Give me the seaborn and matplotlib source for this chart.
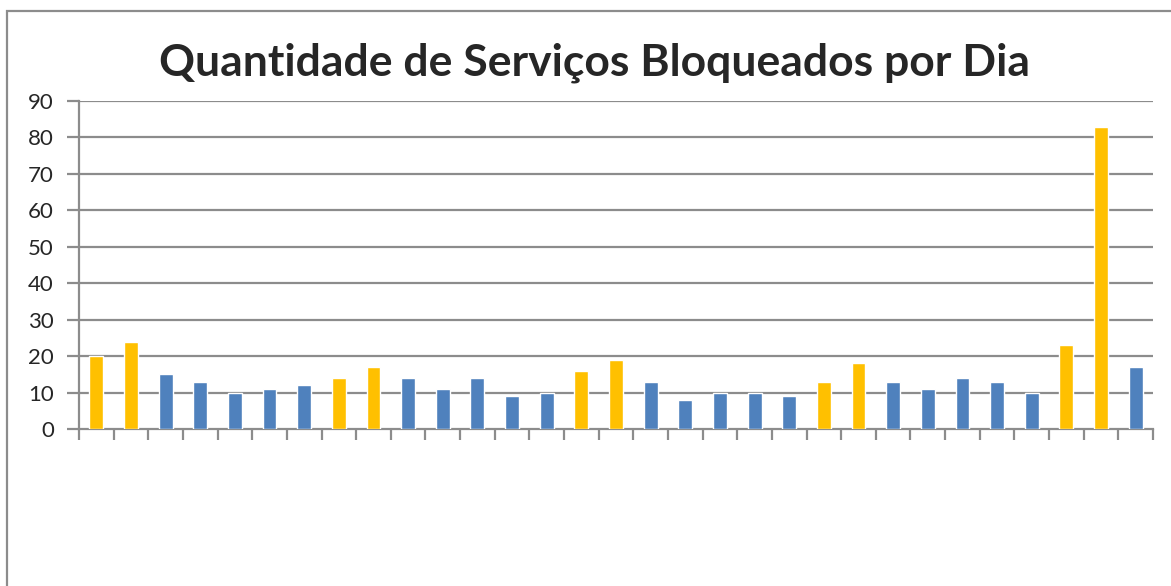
import matplotlib
matplotlib.use("Agg")
import matplotlib.pyplot as plt
import seaborn as sns
import pandas as pd
import numpy as np
from matplotlib.patches import Rectangle

# --- Data ---
dias = list(range(1, 32))
bloqueados = [20, 24, 15, 13, 10, 11, 12, 14, 17, 14, 11, 14, 9, 10, 16, 19,
              13, 8, 10, 10, 9, 13, 18, 13, 11, 14, 13, 10, 23, 83, 17]
fim_de_semana = [1, 2, 8, 9, 15, 16, 22, 23, 29, 30]

df = pd.DataFrame({"dia": dias, "qtd": bloqueados})
df["tipo"] = np.where(df["dia"].isin(fim_de_semana), "fds", "util")

sns.set_style("white")
plt.rcParams["font.family"] = ["Lato", "DejaVu Sans"]

fig = plt.figure(figsize=(11.71, 5.86), dpi=100)
ax = fig.add_axes([79 / 1171, 1 - 429 / 586, (1153 - 79) / 1171, (429 - 101) / 586])

palette = {"fds": "#FFC000", "util": "#4F81BD"}
sns.barplot(data=df, x="dia", y="qtd", hue="tipo", palette=palette, dodge=False,
            width=0.4, saturation=1, legend=False, ax=ax, zorder=3)

n = len(dias)
ax.set_ylim(0, 90)
ax.set_yticks(range(0, 91, 10))
ax.set_xlim(-0.5, n - 0.5)

# horizontal gridlines, bounded to the plot area
ax.hlines(range(10, 91, 10), -0.5, n - 0.5, color="#8c8c8c", linewidth=1.6, zorder=1)

# Excel-like axes
for s in ["top", "right"]:
    ax.spines[s].set_visible(False)
for s in ["left", "bottom"]:
    ax.spines[s].set_color("#8c8c8c")
    ax.spines[s].set_linewidth(1.6)

ax.set_xticks(np.arange(-0.5, n, 1))
ax.set_xticklabels([])
ax.tick_params(axis="x", length=8, width=1.6, color="#8c8c8c", direction="out",
               bottom=True, top=False)
ax.tick_params(axis="y", length=9, width=1.6, color="#8c8c8c", direction="out",
               left=True, right=False, labelsize=16, pad=9)
ax.set_xlabel("")
ax.set_ylabel("")

fig.text(0.508, 0.893, "Quantidade de Serviços Bloqueados por Dia", ha="center", va="center",
         fontsize=32, fontweight="bold")

# chart area border (only left/top fall inside the image)
fig.patches.append(Rectangle((7 / 1171, -0.1), 1.2, 1 - 11 / 586 + 0.1, transform=fig.transFigure,
                             fill=False, edgecolor="#8c8c8c", linewidth=1.6))

fig.savefig("out.png", dpi=100)
